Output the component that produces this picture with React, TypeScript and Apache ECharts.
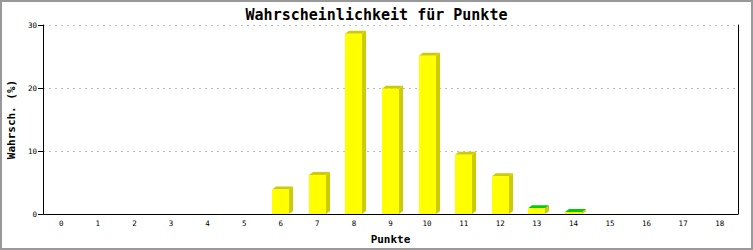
import React, { useEffect, useRef } from "react";
import * as echarts from "echarts";

const title = "Wahrscheinlichkeit für Punkte";
const xName = "Punkte";
const yName = "Wahrsch. (%)";
const categories = ["0","1","2","3","4","5","6","7","8","9","10","11","12","13","14","15","16","17","18"];
const values = [0, 0, 0, 0, 0, 0, 3.9, 6.2, 28.6, 19.9, 25.1, 9.4, 6.0, 0.9, 0.3, 0, 0, 0, 0];
const yTicks = [0, 10, 20, 30];

const FONT = "DejaVu Sans Mono";

export default function App() {
  const ref = useRef<HTMLDivElement>(null);
  useEffect(() => {
    if (!ref.current) return;
    const chart = echarts.init(ref.current, null, { renderer: "svg" });
    const yMax = yTicks[yTicks.length - 1];
    const yInterval = yTicks[1] - yTicks[0];
    chart.setOption({
      animation: false,
      backgroundColor: "#ffffff",
      title: {
        text: title,
        left: "center",
        top: 2,
        textStyle: { fontFamily: FONT, fontWeight: "bold", fontSize: 15, color: "#000" },
      },
      grid: { left: 43, right: 15, top: 25, bottom: 36, containLabel: false, outerBoundsMode: "none" },
      graphic: [
        {
          type: "rect",
          shape: { x: 1, y: 1, width: 751, height: 248 },
          style: { fill: "none", stroke: "#999999", lineWidth: 2 },
          silent: true,
        },
      ],
      xAxis: {
        type: "category",
        data: categories,
        boundaryGap: true,
        name: xName,
        nameLocation: "middle",
        nameGap: 20,
        nameTextStyle: { fontFamily: FONT, fontWeight: "bold", fontSize: 11, color: "#000" },
        axisLine: { show: true, lineStyle: { color: "#000", width: 1 } },
        axisTick: { show: false },
        axisLabel: { interval: 0, margin: 5, fontFamily: FONT, fontSize: 7.5, color: "#000" },
        splitLine: { show: false },
      },
      yAxis: [
        {
          type: "value",
          min: 0,
          max: yMax,
          interval: yInterval,
          name: yName,
          nameLocation: "middle",
          nameGap: 25,
          nameTextStyle: { fontFamily: FONT, fontWeight: "bold", fontSize: 11, color: "#000" },
          axisLine: { show: true, lineStyle: { color: "#000", width: 1 } },
          axisTick: { show: true, length: 5, lineStyle: { color: "#000" } },
          axisLabel: { margin: 6, fontFamily: FONT, fontSize: 7.5, color: "#000" },
          splitLine: { show: true, lineStyle: { color: "#bbbbbb", type: [2, 4], width: 1 } },
        },
        {
          type: "value",
          min: 0,
          max: yMax,
          interval: yInterval,
          position: "right",
          axisLine: { show: true, lineStyle: { color: "#000", width: 1 } },
          axisTick: { show: false },
          axisLabel: { show: false },
          splitLine: { show: false },
        },
      ],
      series: [
        {
          type: "custom",
          yAxisIndex: 0,
          data: values.map((v, i) => [i, v]),
          renderItem: (params: any, api: any) => {
            const xi = api.value(0);
            const v = api.value(1);
            if (!v || v <= 0) return null;
            const base = api.coord([xi, 0]);
            const top = api.coord([xi, v]);
            const bw = api.size([1, 0])[0] * 0.465;
            const dx = 4;
            const dy = 3;
            const left = Math.round(base[0] - bw / 2);
            const right = Math.round(left + bw);
            const ty = top[1];
            const by = base[1];
            const topColor = v < 1 ? "#00cc00" : "#cccc00";
            return {
              type: "group",
              children: [
                {
                  type: "polygon",
                  shape: { points: [[right, ty], [right + dx, ty - dy], [right + dx, by - dy], [right, by]] },
                  style: { fill: "#cccc00" },
                },
                {
                  type: "polygon",
                  shape: { points: [[left, ty], [left + dx, ty - dy], [right + dx, ty - dy], [right, ty]] },
                  style: { fill: topColor },
                },
                {
                  type: "rect",
                  shape: { x: left, y: ty, width: right - left, height: by - ty },
                  style: { fill: "#ffff00" },
                },
              ],
            };
          },
        },
      ],
    });
    return () => chart.dispose();
  }, []);
  return (
    <div
      ref={ref}
      style={{ position: "absolute", left: 0, top: 0, width: 753, height: 250 }}
    />
  );
}
